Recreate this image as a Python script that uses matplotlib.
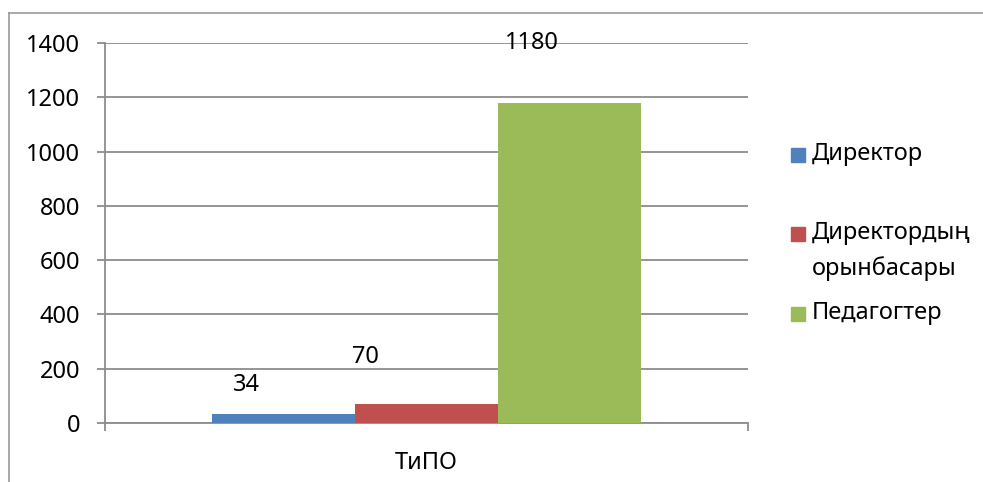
import matplotlib
matplotlib.use('Agg')
import matplotlib.pyplot as plt
from matplotlib.patches import Rectangle
from matplotlib.lines import Line2D

plt.rcParams['font.family'] = ['Noto Sans', 'DejaVu Sans']

# ----------------------------------------------------------------------------------------------------------------------
# data
# ----------------------------------------------------------------------------------------------------------------------

category = 'ТиПО'
series = ['Директор', 'Директордың\nорынбасары', 'Педагогтер']
values = [34, 70, 1180]
colors = ['#4F81BD', '#C0504D', '#9BBB59']
yticks = [0, 200, 400, 600, 800, 1000, 1200, 1400]

# label offsets from the top-centre of each bar, in pixels
label_offsets = [(-37, 29), (-61, 47), (-38, 60)]

W, H = 983, 482
fs = 17
fig = plt.figure(figsize=(W / 100, H / 100), dpi=100)
ax = fig.add_axes([105 / W, 1 - 423 / H, (748 - 105) / W, (423 - 43) / H])

grid_col = '#8C8C8C'
bar_w = 1.0 / 4.5
n = len(values)
for i in range(n):
    x = (i - (n - 1) / 2) * bar_w
    ax.bar(x, values[i], width=bar_w, color=colors[i], zorder=3)
    ax.annotate(str(values[i]), (x, values[i]), xytext=label_offsets[i],
                textcoords='offset pixels', ha='center', va='center',
                fontsize=fs, color='black', zorder=5)

ax.set_xlim(-0.5, 0.5)
ax.set_ylim(0, 1400)
ax.set_yticks(yticks)
ax.yaxis.grid(True, color=grid_col, linewidth=1.3, zorder=0)
ax.set_axisbelow(True)

ax.set_xticks([-0.5, 0.5])
ax.set_xticklabels(['', ''])
ax.set_xticks([0], minor=True)
ax.set_xticklabels([category], minor=True)
ax.tick_params(axis='x', which='major', length=6, width=1.3, color=grid_col, direction='out')
ax.tick_params(axis='x', which='minor', length=0, pad=20, labelsize=fs)
ax.tick_params(axis='y', length=6, width=1.3, color=grid_col, pad=12, labelsize=fs)

for s in ['top', 'right']:
    ax.spines[s].set_visible(False)
for s in ['left', 'bottom']:
    ax.spines[s].set_color(grid_col)
    ax.spines[s].set_linewidth(1.3)

# legend drawn by hand (square aligned with the first line of each entry)
leg_y = [155, 234, 314]
for name, col, y in zip(series, colors, leg_y):
    fig.add_artist(Rectangle((791 / W, 1 - (y + 7) / H), 14 / W, 14 / H,
                             transform=fig.transFigure, color=col))
    fig.text(812 / W, 1 - (y - 13) / H, name, fontsize=fs, va='top', ha='left',
             linespacing=1.6)

# outer chart border
border_col = '#999999'
fig.add_artist(Line2D([9 / W, 9 / W], [0, 1 - 13 / H], transform=fig.transFigure,
                      color=border_col, linewidth=1.2))
fig.add_artist(Line2D([9 / W, 1], [1 - 13 / H, 1 - 13 / H], transform=fig.transFigure,
                      color=border_col, linewidth=1.2))

fig.savefig('out.png', dpi=100)
